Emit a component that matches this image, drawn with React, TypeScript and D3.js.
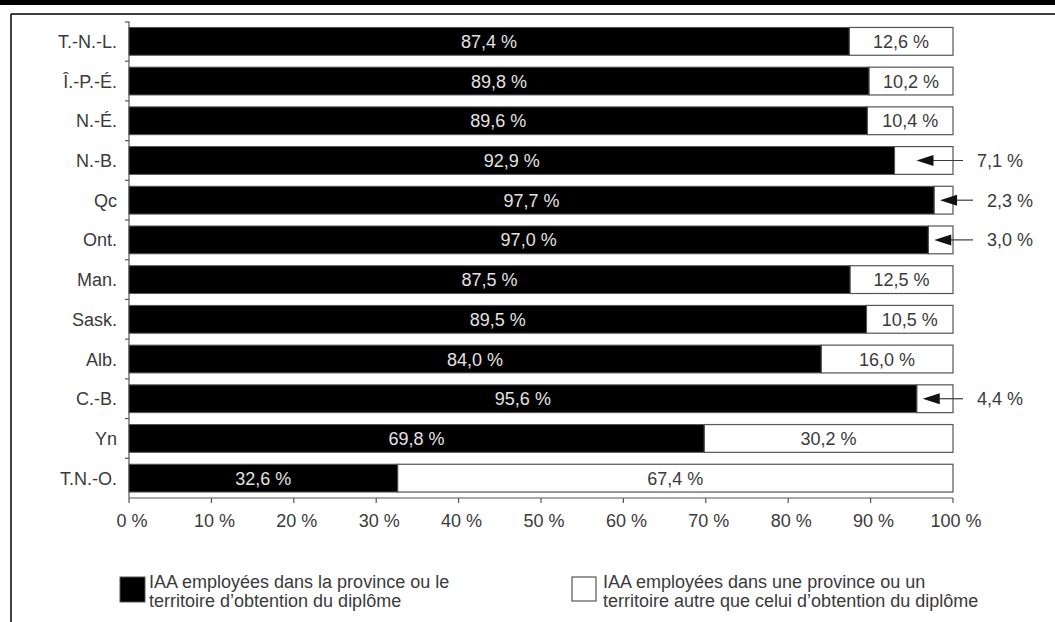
import React from "react";
import * as d3 from "d3";

const categories = ["T.-N.-L.", "Î.-P.-É.", "N.-É.", "N.-B.", "Qc", "Ont.", "Man.", "Sask.", "Alb.", "C.-B.", "Yn", "T.N.-O."];
const sameProvince = [87.4, 89.8, 89.6, 92.9, 97.7, 97.0, 87.5, 89.5, 84.0, 95.6, 69.8, 32.6];
const otherProvince = [12.6, 10.2, 10.4, 7.1, 2.3, 3.0, 12.5, 10.5, 16.0, 4.4, 30.2, 67.4];
const outsideLabels = ["N.-B.", "Qc", "Ont.", "C.-B."];
const xTicks = [0, 10, 20, 30, 40, 50, 60, 70, 80, 90, 100];
const legendSame = ["IAA employées dans la province ou le", "territoire d’obtention du diplôme"];
const legendOther = ["IAA employées dans une province ou un", "territoire autre que celui d’obtention du diplôme"];

const fmt = (v: number) => v.toFixed(1).replace(".", ",") + " %";
const FONT = "'Liberation Sans', Arial, sans-serif";

export default function App() {
  const W = 1055, H = 622;
  const x = d3.scaleLinear().domain([0, 100]).range([129, 953]);
  const y = d3.scaleBand<string>().domain(categories).range([21.5, 498]).paddingInner(0.3).paddingOuter(0.15);
  const step = y.step();
  const bw = y.bandwidth();
  const textCol = "#3a3a3a";
  const strokeCol = "#555";
  const fs = 18;

  return (
    <svg width={W} height={H} style={{ position: "absolute", left: 0, top: 0, background: "#fff" }} fontFamily={FONT}>
      {/* frame */}
      <rect x={0} y={0} width={W} height={5} fill="#000" />
      <line x1={11} y1={14} x2={W} y2={14} stroke="#000" strokeWidth={1.5} />
      <line x1={11} y1={14} x2={11} y2={H} stroke="#000" strokeWidth={1.5} />

      {/* y axis */}
      <line x1={x(0)} y1={21.5} x2={x(0)} y2={498} stroke={strokeCol} strokeWidth={1.2} />
      {d3.range(categories.length).map((i) => {
        const yy = i === 0 ? 22 : (y(categories[i]) as number) - (step * 0.3) / 2;
        return <line key={"yt" + i} x1={x(0) - 4} x2={x(0)} y1={yy} y2={yy} stroke={strokeCol} strokeWidth={1.2} />;
      })}

      {/* bars */}
      {categories.map((c, i) => {
        const y0 = y(c) as number;
        const cy = y0 + bw / 2;
        const xe = x(sameProvince[i]);
        const outside = outsideLabels.includes(c);
        const whiteW = x(100) - xe;
        const tip = xe + (whiteW > 50 ? 22 : 6);
        const lineEnd = whiteW > 30 ? x(100) + 10 : x(100) + 20;
        return (
          <g key={c}>
            <rect x={xe} y={y0} width={whiteW} height={bw} fill="#fff" stroke={strokeCol} strokeWidth={1.2} />
            <rect x={x(0)} y={y0} width={xe - x(0)} height={bw} fill="#000" stroke={strokeCol} strokeWidth={1} />
            <text x={(x(0) + xe) / 2} y={cy} dy="0.36em" textAnchor="middle" fill="#e2e2e2" fontSize={fs}>
              {fmt(sameProvince[i])}
            </text>
            {!outside && (
              <text x={(xe + x(100)) / 2} y={cy} dy="0.36em" textAnchor="middle" fill={textCol} fontSize={fs}>
                {fmt(otherProvince[i])}
              </text>
            )}
            {outside && (
              <g>
                <line x1={tip + 10} x2={lineEnd} y1={cy} y2={cy} stroke={textCol} strokeWidth={1.2} />
                <path d={`M${tip},${cy} L${tip + 17},${cy - 5.5} L${tip + 17},${cy + 5.5} Z`} fill="#111" />
                <text x={lineEnd + 14} y={cy} dy="0.36em" fill={textCol} fontSize={fs}>
                  {fmt(otherProvince[i])}
                </text>
              </g>
            )}
            <text x={117} y={cy} dy="0.36em" textAnchor="end" fill={textCol} fontSize={fs}>
              {c}
            </text>
          </g>
        );
      })}

      {/* x axis */}
      <line x1={x(0)} x2={x(100)} y1={498} y2={498} stroke={strokeCol} strokeWidth={1.2} />
      {xTicks.map((t) => (
        <g key={"xt" + t}>
          <line x1={x(t)} x2={x(t)} y1={498} y2={503} stroke={strokeCol} strokeWidth={1.2} />
          <text x={x(t) + 3} y={521} dy="0.36em" textAnchor="middle" fill={textCol} fontSize={fs}>
            {t + " %"}
          </text>
        </g>
      ))}

      {/* legend */}
      <rect x={120} y={577} width={25} height={25} fill="#000" stroke={strokeCol} />
      {legendSame.map((l, i) => (
        <text key={"ls" + i} x={149} y={588 + i * 19} fill={textCol} fontSize={fs}>{l}</text>
      ))}
      <rect x={572} y={577} width={24} height={24} fill="#fff" stroke={strokeCol} strokeWidth={1.2} />
      {legendOther.map((l, i) => (
        <text key={"lo" + i} x={603} y={588 + i * 19} fill={textCol} fontSize={fs}>{l}</text>
      ))}
    </svg>
  );
}
